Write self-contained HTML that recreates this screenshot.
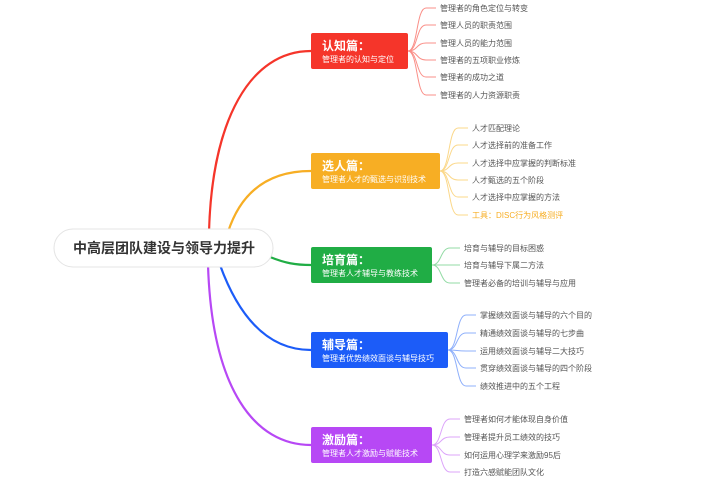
<!DOCTYPE html>
<html><head><meta charset="utf-8"><style>
body{margin:0;background:#fff;}
svg{display:block;font-family:"Liberation Sans","Noto Sans CJK SC",sans-serif;}
.l{font-size:8px;fill:#555;}
.t{font-size:12px;font-weight:bold;fill:#fff;}
.s{font-size:8px;fill:#fff;}
</style></head><body>
<svg width="720" height="490" viewBox="0 0 720 490">
<g fill="none" stroke-width="2.2">
<path d="M209 232 C212 120,250 51,311 51" stroke="#f5352a"/>
<path d="M228 232 C240 195,265 171,311 171" stroke="#f7ae24"/>
<path d="M270 257 C285 263,295 265,311 265" stroke="#20ad45"/>
<path d="M220 265 C240 320,270 350,311 350" stroke="#1c5cf8"/>
<path d="M208 265 C212 390,255 445,311 445" stroke="#b748f5"/>
</g>
<g fill="none" stroke-width="1" stroke="#fa8f88">
<path d="M408 51 C418 51,416 8,426 8 L436 8"/>
<path d="M408 51 C418 51,416 25,426 25 L436 25"/>
<path d="M408 51 C418 51,416 43,426 43 L436 43"/>
<path d="M408 51 C418 51,416 60,426 60 L436 60"/>
<path d="M408 51 C418 51,416 77,426 77 L436 77"/>
<path d="M408 51 C418 51,416 95,426 95 L436 95"/>
</g>
<g fill="none" stroke-width="1" stroke="#fbd88a">
<path d="M440 171 C450 171,448 128,458 128 L468 128"/>
<path d="M440 171 C450 171,448 145,458 145 L468 145"/>
<path d="M440 171 C450 171,448 163,458 163 L468 163"/>
<path d="M440 171 C450 171,448 180,458 180 L468 180"/>
<path d="M440 171 C450 171,448 197,458 197 L468 197"/>
<path d="M440 171 C450 171,448 215,458 215 L468 215"/>
</g>
<g fill="none" stroke-width="1" stroke="#93dba5">
<path d="M432 265 C442 265,440 248,450 248 L460 248"/>
<path d="M432 265 L460 265"/>
<path d="M432 265 C442 265,440 283,450 283 L460 283"/>
</g>
<g fill="none" stroke-width="1" stroke="#8fb0fb">
<path d="M448 350 C458 350,456 315,466 315 L476 315"/>
<path d="M448 350 C458 350,456 333,466 333 L476 333"/>
<path d="M448 350 C458 350,456 351,466 351 L476 351"/>
<path d="M448 350 C458 350,456 368,466 368 L476 368"/>
<path d="M448 350 C458 350,456 386,466 386 L476 386"/>
</g>
<g fill="none" stroke-width="1" stroke="#dca4fa">
<path d="M432 445 C442 445,440 419,450 419 L460 419"/>
<path d="M432 445 C442 445,440 437,450 437 L460 437"/>
<path d="M432 445 C442 445,440 455,450 455 L460 455"/>
<path d="M432 445 C442 445,440 472,450 472 L460 472"/>
</g>
<rect x="54" y="229" width="219" height="38" rx="19" fill="#fff" stroke="#e4e4e4"/>
<text x="164" y="253" text-anchor="middle" font-size="14" font-weight="bold" fill="#333">中高层团队建设与领导力提升</text>

<rect x="311" y="33" width="97" height="36" rx="2" fill="#f5352a"/>
<text class="t" x="322" y="50">认知篇：</text><text class="s" x="322" y="62">管理者的认知与定位</text>
<rect x="311" y="153" width="129" height="36" rx="2" fill="#f7ae24"/>
<text class="t" x="322" y="170">选人篇：</text><text class="s" x="322" y="182">管理者人才的甄选与识别技术</text>
<rect x="311" y="247" width="121" height="36" rx="2" fill="#20ad45"/>
<text class="t" x="322" y="264">培育篇：</text><text class="s" x="322" y="276">管理者人才辅导与教练技术</text>
<rect x="311" y="332" width="137" height="36" rx="2" fill="#1c5cf8"/>
<text class="t" x="322" y="349">辅导篇：</text><text class="s" x="322" y="361">管理者优势绩效面谈与辅导技巧</text>
<rect x="311" y="427" width="121" height="36" rx="2" fill="#b748f5"/>
<text class="t" x="322" y="444">激励篇：</text><text class="s" x="322" y="456">管理者人才激励与赋能技术</text>

<g>
<text class="l" x="440" y="11">管理者的角色定位与转变</text>
<text class="l" x="440" y="28">管理人员的职责范围</text>
<text class="l" x="440" y="46">管理人员的能力范围</text>
<text class="l" x="440" y="63">管理者的五项职业修炼</text>
<text class="l" x="440" y="80">管理者的成功之道</text>
<text class="l" x="440" y="98">管理者的人力资源职责</text>
<text class="l" x="472" y="131">人才匹配理论</text>
<text class="l" x="472" y="148">人才选择前的准备工作</text>
<text class="l" x="472" y="166">人才选择中应掌握的判断标准</text>
<text class="l" x="472" y="183">人才甄选的五个阶段</text>
<text class="l" x="472" y="200">人才选择中应掌握的方法</text>
<text x="472" y="218" font-size="8" fill="#f7ae24">工具：DISC行为风格测评</text>
<text class="l" x="464" y="251">培育与辅导的目标困惑</text>
<text class="l" x="464" y="268">培育与辅导下属二方法</text>
<text class="l" x="464" y="286">管理者必备的培训与辅导与应用</text>
<text class="l" x="480" y="318">掌握绩效面谈与辅导的六个目的</text>
<text class="l" x="480" y="336">精通绩效面谈与辅导的七步曲</text>
<text class="l" x="480" y="354">运用绩效面谈与辅导二大技巧</text>
<text class="l" x="480" y="371">贯穿绩效面谈与辅导的四个阶段</text>
<text class="l" x="480" y="389">绩效推进中的五个工程</text>
<text class="l" x="464" y="422">管理者如何才能体现自身价值</text>
<text class="l" x="464" y="440">管理者提升员工绩效的技巧</text>
<text class="l" x="464" y="458">如何运用心理学来激励95后</text>
<text class="l" x="464" y="475">打造六感赋能团队文化</text>
</g>
</svg>
</body></html>
